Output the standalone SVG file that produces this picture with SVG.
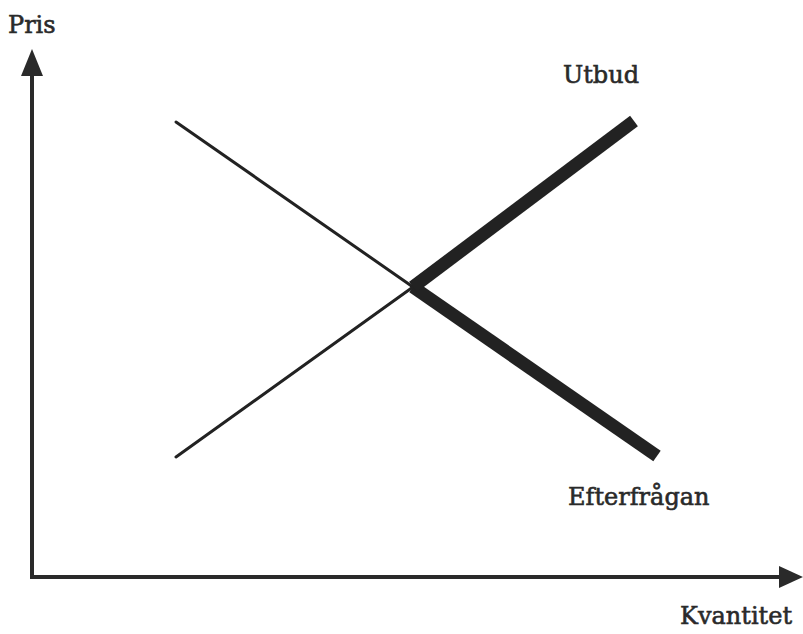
<svg xmlns="http://www.w3.org/2000/svg" width="803" height="634" viewBox="0 0 803 634">
  <style>
    .lbl { font-family: "DejaVu Serif", "Liberation Serif", serif; font-size: 24px; fill: #2a2a2a; stroke: #2a2a2a; stroke-width: 0.6; }
    .axis { stroke: #2a2a2a; stroke-width: 4; fill: none; }
    .thin { stroke: #222; stroke-width: 3; fill: none; stroke-linecap: round; }
    .thick { stroke: #222; stroke-width: 13; fill: none; stroke-linecap: butt; }
    .head { fill: #2a2a2a; }
  </style>
  <rect width="803" height="634" fill="#ffffff"/>

  <g id="connectors">
    <!-- price axis -->
    <path class="axis" d="M32,577 V72"/>
    <polygon class="head" points="32,49 21,76 43,76"/>
    <!-- quantity axis -->
    <path class="axis" d="M30,577 H782"/>
    <polygon class="head" points="803,577 779,566 779,588"/>
  </g>

  <g id="demand">
    <path class="thin" d="M176,122 L413,287"/>
    <path class="thick" d="M413,287 L657,456"/>
  </g>

  <g id="supply">
    <path class="thin" d="M176,457 L413,287"/>
    <path class="thick" d="M413,287 L634,121"/>
  </g>

  <g id="labels">
    <text class="lbl" x="8" y="33">Pris</text>
    <text class="lbl" x="563" y="83">Utbud</text>
    <text class="lbl" x="568" y="505">Efterfrågan</text>
    <text class="lbl" x="680" y="624">Kvantitet</text>
  </g>
</svg>
